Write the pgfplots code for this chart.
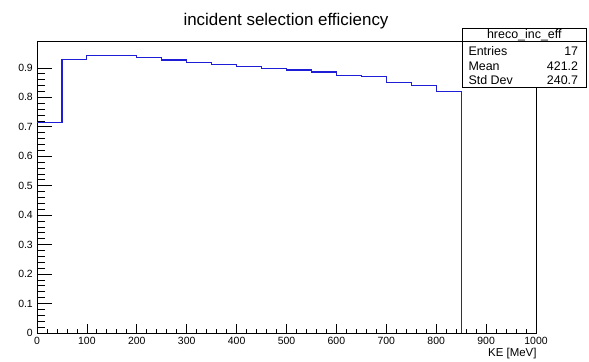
\documentclass[border=0pt]{standalone}
\usepackage{pgfplots}
\pgfplotsset{compat=1.18}
\usepackage{fontspec}
\setmainfont{Liberation Sans}[Ligatures=NoCommon]
\definecolor{histblue}{RGB}{30,30,215}
\pgfplotsset{
  rootbox/.style={
    scale only axis,
    width=499bp, height=291.3bp,
    at={(37bp,28bp)}, anchor=south west,
    xmin=0, xmax=1000, ymin=0, ymax=0.989,
    minor tick num=4,
    tick align=inside,
    xtick pos=bottom, ytick pos=left,
    tick style={black, line width=0.8bp},
    axis line style={black, line width=0.8bp},
    /pgf/number format/assume math mode=true,
    /pgf/number format/1000 sep={},
    ticklabel style={font=\fontsize{10.5}{12}\selectfont},
    clip=false,
  }
}
\begin{document}
\begin{tikzpicture}[x=1bp,y=1bp]
\useasboundingbox (0,0) rectangle (589,361);
% axis with y ticks (longer ticks)
\begin{axis}[rootbox,
  xtick=\empty,
  ytick={0,0.1,...,0.9},
  major tick length=15bp, minor tick length=8bp,
  yticklabel style={inner sep=0pt, anchor=east, xshift=-4bp,
    /pgf/number format/.cd, fixed, precision=1},
]
\end{axis}
% axis with x ticks and the histogram
\begin{axis}[rootbox,
  ytick=\empty,
  xtick={0,100,...,1000},
  major tick length=9bp, minor tick length=4.5bp,
  xticklabel style={inner sep=0pt, anchor=north, yshift=-3.5bp},
]
\addplot[const plot, histblue, line width=1.1bp, mark=none] coordinates {
(0,0.716) (50,0.930) (100,0.943) (150,0.943) (200,0.935) (250,0.927)
(300,0.919) (350,0.912) (400,0.904) (450,0.898) (500,0.893) (550,0.886)
(600,0.875) (650,0.870) (700,0.851) (750,0.840) (800,0.819)
(850,0)
};
\end{axis}
% title
\node[anchor=base, inner sep=0pt, font=\fontsize{17}{20}\selectfont] at (286,336) {incident selection efficiency};
% x axis label
\node[anchor=base east, inner sep=0pt, font=\fontsize{11.5}{13}\selectfont] at (536.7,5) {KE [MeV]};
% stats box
\filldraw[fill=white, draw=black, line width=0.8bp] (462,273.7) rectangle (586.7,332.3);
\draw[black, line width=0.8bp] (462,319.3) -- (586.7,319.3);
\begin{scope}[font=\fontsize{12.5}{14}\selectfont]
\node[anchor=base, inner sep=0pt] at (524.3,323) {hreco\_inc\_eff};
\node[anchor=base west, inner sep=0pt] at (468.3,305.3) {Entries};
\node[anchor=base east, inner sep=0pt] at (578.3,305.3) {17};
\node[anchor=base west, inner sep=0pt] at (468.3,291) {Mean};
\node[anchor=base east, inner sep=0pt] at (578.3,291) {421.2};
\node[anchor=base west, inner sep=0pt] at (468.3,276.7) {Std Dev};
\node[anchor=base east, inner sep=0pt] at (578.3,276.7) {240.7};
\end{scope}
\end{tikzpicture}
\end{document}
